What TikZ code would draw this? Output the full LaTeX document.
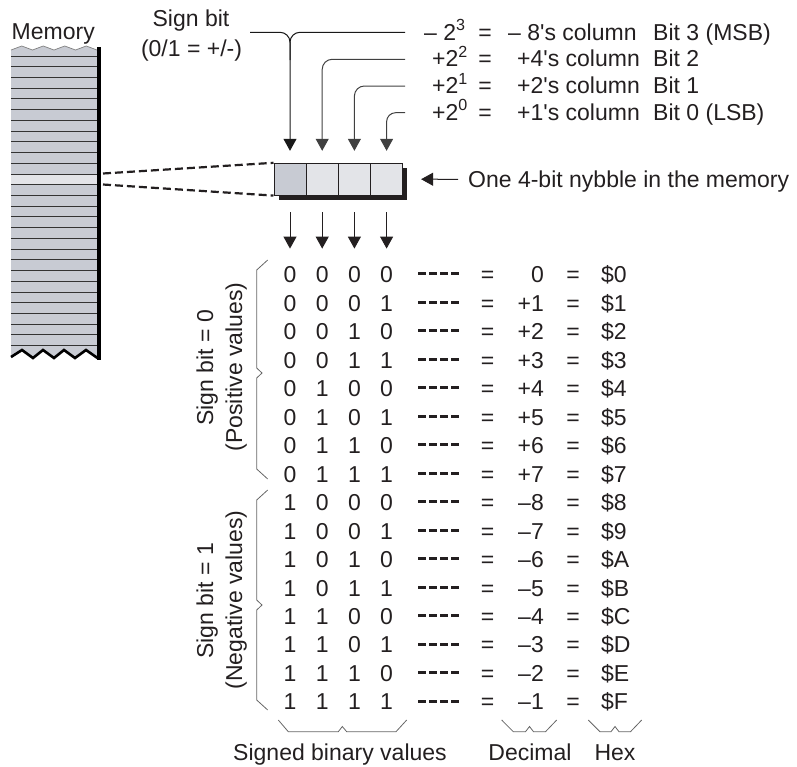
\documentclass[tikz,border=0pt]{standalone}
\usepackage{fontspec}
\setmainfont{Liberation Sans}[Ligatures=TeXOff]
\usetikzlibrary{arrows.meta}
\definecolor{memfill}{HTML}{C8CBD3}
\definecolor{memhi}{HTML}{E3E4E8}
\definecolor{ink}{HTML}{231F20}
\begin{document}
\begin{tikzpicture}[x=1pt,y=-1pt,
  txt/.style={font=\fontsize{23}{27}\selectfont, text=ink, inner sep=0pt},
  cell/.style={draw=ink, line width=0.8pt, minimum width=32.2pt, minimum height=32pt, inner sep=0pt, fill=#1},
  tri/.style={-{Triangle[length=12pt,width=13pt]}},
  conn/.style={draw=black!75, line width=1pt},
  bracel/.style={draw=black!60, line width=0.8pt},
  dashrule/.style={line width=3pt, dash pattern=on 8pt off 3pt, draw=ink},
  zoomdash/.style={line width=2.2pt, dash pattern=on 8pt off 4pt, draw=ink},
]
\useasboundingbox (0,0) rectangle (797,766);

% ---------------- Memory column ----------------
\fill[memfill] (11,50) -- (21.75,46) -- (32.5,50) -- (43.25,46) -- (54,50) -- (64.75,46) -- (75.5,50) -- (86.25,46) -- (97,50)
  -- (97,358) -- (86,350) -- (75,358) -- (64,350) -- (54,358) -- (43,350) -- (33,358) -- (22,350) -- (11,357) -- cycle;
\fill[memhi] (11,174.3) rectangle (97,184.8);
\foreach \i in {0,...,27} \draw[black!80, line width=1pt] (11,56+10.73*\i) -- (97,56+10.73*\i);
\draw[black!50, line width=0.7pt] (11,50) -- (21.75,46) -- (32.5,50) -- (43.25,46) -- (54,50) -- (64.75,46) -- (75.5,50) -- (86.25,46) -- (97,50);
\draw[black, line width=2.6pt, line join=miter] (11,357) -- (22,350) -- (33,358) -- (43,350) -- (54,358) -- (64,350) -- (75,358) -- (86,350) -- (97.5,358);
\fill[black] (97,47) rectangle (100.5,360);
\node[txt, anchor=base west] (mem) at (11.5,39) {Memory};
\coordinate (mA) at (103,173.5);
\coordinate (mB) at (103,184.5);

% ---------------- Nybble ----------------
\fill[ink] (278.5,167.5) rectangle (407,200);
\node[cell=memfill] (c0) at (290,179.2) {};
\node[cell=memhi] (c1) at (322.2,179.2) {};
\node[cell=memhi] (c2) at (354.4,179.2) {};
\node[cell=memhi] (c3) at (386.6,179.2) {};

\draw[zoomdash] (mA) -- (c0.north west);
\draw[zoomdash] (mB) -- (c0.south west);

% ---------------- Top labels ----------------
\node[txt, anchor=base] (sgn) at (191,26.7) {Sign bit};
\node[txt, anchor=base] (sgn2) at (191.5,56.7) {(0/1 = +/-)};

\node[txt, anchor=base west] (p3) at (424,40) {– 2\textsuperscript{3}};
\node[txt, anchor=base] (e3) at (485,40) {=};
\node[txt, anchor=base west] (w3) at (508,40) {– 8's column};
\node[txt, anchor=base west] (b3) at (653,40) {Bit 3 (MSB)};

\node[txt, anchor=base west] (p2) at (432,66.7) {+2\textsuperscript{2}};
\node[txt, anchor=base] (e2) at (485,66.7) {=};
\node[txt, anchor=base west] (w2) at (517,66.7) {+4's column};
\node[txt, anchor=base west] (b2) at (653,66.7) {Bit 2};

\node[txt, anchor=base west] (p1) at (432,93.3) {+2\textsuperscript{1}};
\node[txt, anchor=base] (e1) at (485,93.3) {=};
\node[txt, anchor=base west] (w1) at (517,93.3) {+2's column};
\node[txt, anchor=base west] (b1) at (653,93.3) {Bit 1};

\node[txt, anchor=base west] (p0) at (432,120) {+2\textsuperscript{0}};
\node[txt, anchor=base] (e0) at (485,120) {=};
\node[txt, anchor=base west] (w0) at (517,120) {+1's column};
\node[txt, anchor=base west] (b0) at (653,120) {Bit 0 (LSB)};

\coordinate (sL) at (250,32.3);
\coordinate (s3) at (405,32.3);
\coordinate (s2) at (405,59.3);
\coordinate (s1) at (405,86);
\coordinate (s0) at (405,112.7);

\draw[conn, draw=black!90, tri, rounded corners=10pt] (sL) -| ([yshift=12pt]c0.north);
\draw[conn, draw=black!90, rounded corners=10pt] (s3) -| (290,60);
\draw[conn, tri, rounded corners=10pt] (s2) -| ([yshift=12pt]c1.north);
\draw[conn, tri, rounded corners=10pt] (s1) -| ([yshift=12pt]c2.north);
\draw[conn, tri, rounded corners=9pt] (s0) -| ([yshift=12pt]c3.north);

% ---------------- Nybble label ----------------
\node[txt, anchor=base west] (one) at (468,187.3) {One 4-bit nybble in the memory};
\draw[conn, draw=ink, tri] ([xshift=-10pt,yshift=8pt]one.base west) -- ([xshift=18pt]c3.east);

% ---------------- Down arrows ----------------
\foreach \k in {0,...,3}
  \draw[conn, draw=ink, tri] ([yshift=-16.5pt]c\k.south) -- ([yshift=-53pt]c\k.south);

% ---------------- Table ----------------
\foreach \ba/\bb/\bc/\bd/\d/\h [count=\i from 0] in {
  0/0/0/0/0/0, 0/0/0/1/+1/1, 0/0/1/0/+2/2, 0/0/1/1/+3/3,
  0/1/0/0/+4/4, 0/1/0/1/+5/5, 0/1/1/0/+6/6, 0/1/1/1/+7/7,
  1/0/0/0/–8/8, 1/0/0/1/–7/9, 1/0/1/0/–6/A, 1/0/1/1/–5/B,
  1/1/0/0/–4/C, 1/1/0/1/–3/D, 1/1/1/0/–2/E, 1/1/1/1/–1/F} {
  \pgfmathsetmacro{\bl}{282.6+28.49*\i}
  \pgfmathsetmacro{\cy}{273.8+28.49*\i}
  \node[txt, anchor=base] (r\i a) at (290,\bl) {\ba};
  \node[txt, anchor=base] (r\i b) at (322.2,\bl) {\bb};
  \node[txt, anchor=base] (r\i c) at (354.4,\bl) {\bc};
  \node[txt, anchor=base] (r\i d) at (386.6,\bl) {\bd};
  \draw[dashrule] (418,\cy) -- (459,\cy);
  \node[txt, anchor=base] (r\i e) at (487.5,\bl) {=};
  \node[txt, anchor=base east] (r\i v) at (544,\bl) {\d};
  \node[txt, anchor=base] (r\i f) at (573,\bl) {=};
  \node[txt, anchor=base west] (r\i h) at (601,\bl) {\$\h};
}

% ---------------- Left braces ----------------
\draw[bracel] (267.7,260) -- (256.7,270) -- (256.7,368) -- (262,373) -- (256.7,378) -- (256.7,469) -- (267.7,479);
\draw[bracel] (267.7,490) -- (256.7,500) -- (256.7,600) -- (262,605) -- (256.7,610) -- (256.7,700) -- (267.7,710);

\node[txt, anchor=base, rotate=90] (pos1) at (213,368) {Sign bit = 0};
\node[txt, anchor=base, rotate=90] (pos2) at (242,367) {(Positive values)};
\node[txt, anchor=base, rotate=90] (neg1) at (213,601) {Sign bit = 1};
\node[txt, anchor=base, rotate=90] (neg2) at (242,600) {(Negative values)};

% ---------------- Bottom braces ----------------
\draw[bracel] (278.3,720) -- (288.3,731.7) -- (338.3,731.7) -- (342.3,726.5) -- (346.7,731.7) -- (396,731.7) -- (406.7,720);
\draw[bracel] (501.7,720) -- (513.3,731.7) -- (525.5,731.7) -- (529.5,726.5) -- (533.5,731.7) -- (545.5,731.7) -- (556.7,720);
\draw[bracel] (588.3,720) -- (600,731.7) -- (611,731.7) -- (615,726.5) -- (619,731.7) -- (630.5,731.7) -- (641.7,720);

\node[txt, anchor=base] (lbin) at (340,760) {Signed binary values};
\node[txt, anchor=base] (ldec) at (530,760) {Decimal};
\node[txt, anchor=base] (lhex) at (615,760) {Hex};
\end{tikzpicture}
\end{document}
